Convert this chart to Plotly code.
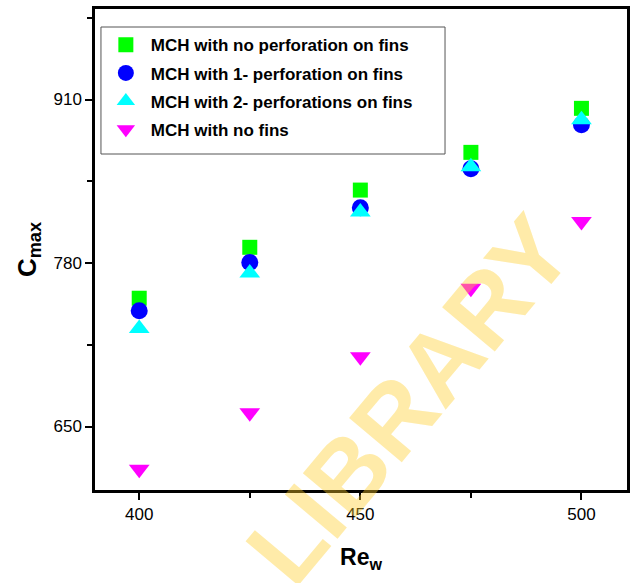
import plotly.graph_objects as go

re_w = [400, 425, 450, 475, 500]
no_perf = [752, 792.5, 838, 868, 903]
one_perf = [742, 780.5, 824, 855, 890]
two_perf = [728, 772, 820.5, 856.5, 894]
no_fins = [616, 661, 705.5, 760, 813]

names = ["MCH with no perforation on fins", "MCH with 1- perforation on fins",
         "MCH with 2- perforations on fins", "MCH with no fins"]
colors = ["#00FF00", "#0000FF", "#00FFFF", "#FF00FF"]
symbols = ["square", "circle", "triangle-up", "triangle-down"]
sizes = [15, 17, 18, 18]
series = [no_perf, one_perf, two_perf, no_fins]

fig = go.Figure()
for i, ys in enumerate(series):
    fig.add_trace(go.Scatter(
        x=re_w, y=ys, mode="markers", name=names[i], legendgroup=f"g{i}",
        marker=dict(symbol=symbols[i], color=colors[i], size=sizes[i], line=dict(width=0)),
    ))

axis_common = dict(
    showline=True, linecolor="black", linewidth=2.5, mirror=True,
    ticks="outside", ticklen=7, tickwidth=2, tickcolor="black",
    showgrid=False, zeroline=False,
    tickfont=dict(family="Liberation Sans", size=17, color="black"),
)

fig.update_xaxes(range=[390, 510.3], dtick=50, tick0=400,
                 minor=dict(dtick=25, tick0=400, ticks="outside", ticklen=5, tickwidth=2, tickcolor="black"),
                 title=dict(text="<b>Re<sub>w</sub></b>", font=dict(family="Liberation Sans", size=23, color="black"), standoff=26),
                 **axis_common)
fig.update_yaxes(range=[599.5, 982], dtick=130, tick0=650,
                 minor=dict(dtick=65, tick0=650, ticks="outside", ticklen=5, tickwidth=2, tickcolor="black"),
                 title=dict(text="<b>C<sub>max</sub></b>", font=dict(family="Liberation Sans", size=26, color="black"), standoff=10),
                 **axis_common)

# legend frame
fig.add_shape(type="rect", xref="paper", yref="paper",
              x0=(101 - 95) / 535, x1=(447 - 95) / 535,
              y0=(490 - 154) / 481, y1=(490 - 27) / 481,
              line=dict(color="#555", width=1), fillcolor="white", layer="below")

fig.add_annotation(text="LIBRARY", xref="paper", yref="paper", x=0.59, y=0.19,
                   xanchor="center", yanchor="middle", showarrow=False,
                   textangle=-50, font=dict(family="Liberation Sans", size=100,
                                            color="rgba(255,205,40,0.4)", weight="bold"))

fig.update_layout(
    width=634, height=583,
    margin=dict(l=95, r=4, t=9, b=93),
    paper_bgcolor="white", plot_bgcolor="white",
    showlegend=True,
    legend=dict(x=0.011, y=0.962, xanchor="left", yanchor="top",
                borderwidth=0, bgcolor="rgba(0,0,0,0)",
                font=dict(family="Liberation Sans", size=17, color="black", weight="bold"),
                tracegroupgap=3, itemsizing="trace", itemwidth=40),
)

fig.write_html("out.html")
